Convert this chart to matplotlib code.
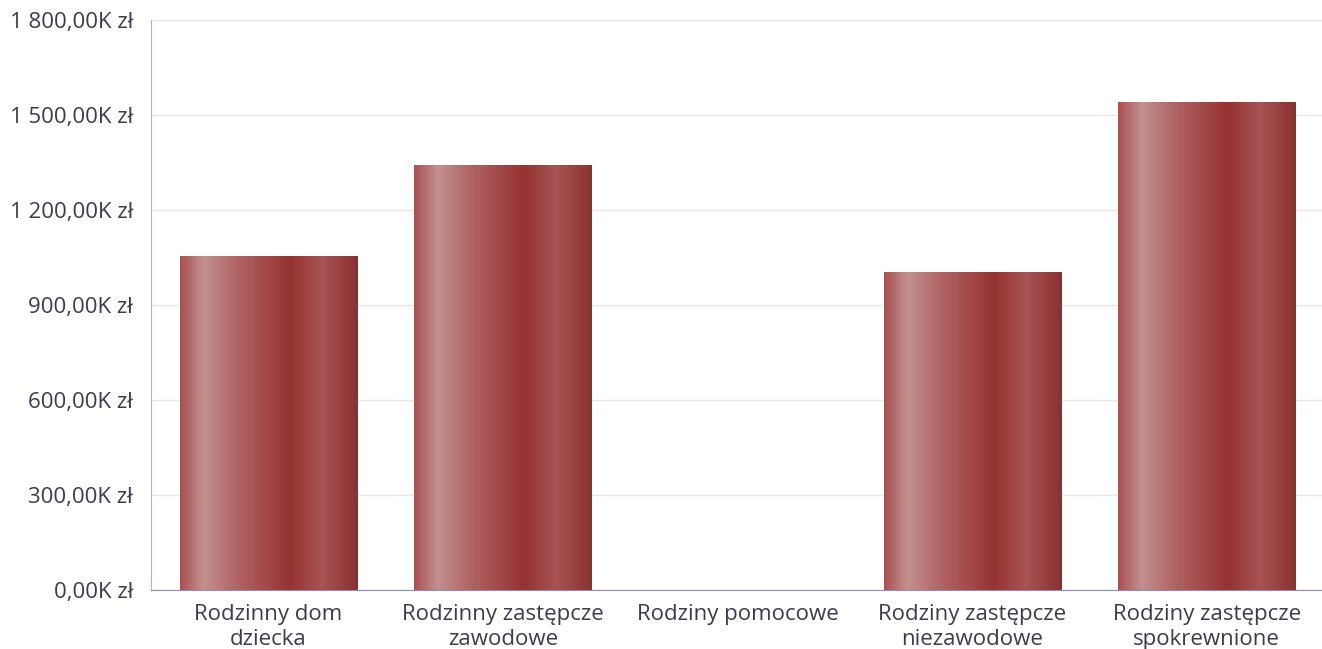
import matplotlib
matplotlib.use("Agg")
import matplotlib.pyplot as plt
import numpy as np
from matplotlib.colors import LinearSegmentedColormap

categories = ["Rodzinny dom\ndziecka", "Rodzinny zastępcze\nzawodowe", "Rodziny pomocowe",
              "Rodziny zastępcze\nniezawodowe", "Rodziny zastępcze\nspokrewnione"]
values = [1054, 1339, 0, 1004, 1541]  # thousands zł
yticks = [0, 300, 600, 900, 1200, 1500, 1800]

plt.rcParams['font.family'] = ['Open Sans', 'DejaVu Sans']
fig = plt.figure(figsize=(13.22, 6.49), dpi=100)
ax = fig.add_axes([151/1322, 1-590/649, 1-149/1322, 570/649])

cmap = LinearSegmentedColormap.from_list("barg", [
    (0.0, "#a85050"), (0.13, "#c39090"), (0.32, "#b06464"),
    (0.62, "#963232"), (0.8, "#a85454"), (1.0, "#8a3030")])
grad = np.linspace(0, 1, 256).reshape(1, -1)

width = 0.755
x = np.arange(len(categories))
bars = ax.bar(x, values, width=width, color="none", zorder=3)
for b, v in zip(bars, values):
    if v <= 0:
        continue
    x0 = b.get_x()
    ax.imshow(grad, cmap=cmap, extent=[x0, x0 + width, 0, v], aspect='auto', zorder=3,
              interpolation='bicubic')

ax.set_xlim(-0.5, len(categories) - 0.5)
ax.set_ylim(0, 1800)
ax.set_yticks(yticks)
ax.set_yticklabels([f"{t:,}".replace(",", " ") + ",00K zł" if t >= 1000 else f"{t},00K zł" for t in yticks])
ax.set_xticks(x)
ax.set_xticklabels(categories, linespacing=1.25)
ax.grid(axis='y', color="#e6e6ef", linewidth=1, zorder=0)
ax.set_axisbelow(True)
for s in ['top', 'right']:
    ax.spines[s].set_visible(False)
ax.spines['left'].set_color("#b0b0cc")
ax.spines['bottom'].set_color("#8c8cb8")
ax.tick_params(axis='both', length=0, labelsize=16, labelcolor="#3c3c50")
ax.tick_params(axis='y', pad=13)
ax.tick_params(axis='x', pad=10)
fig.savefig("out.png", dpi=100)
